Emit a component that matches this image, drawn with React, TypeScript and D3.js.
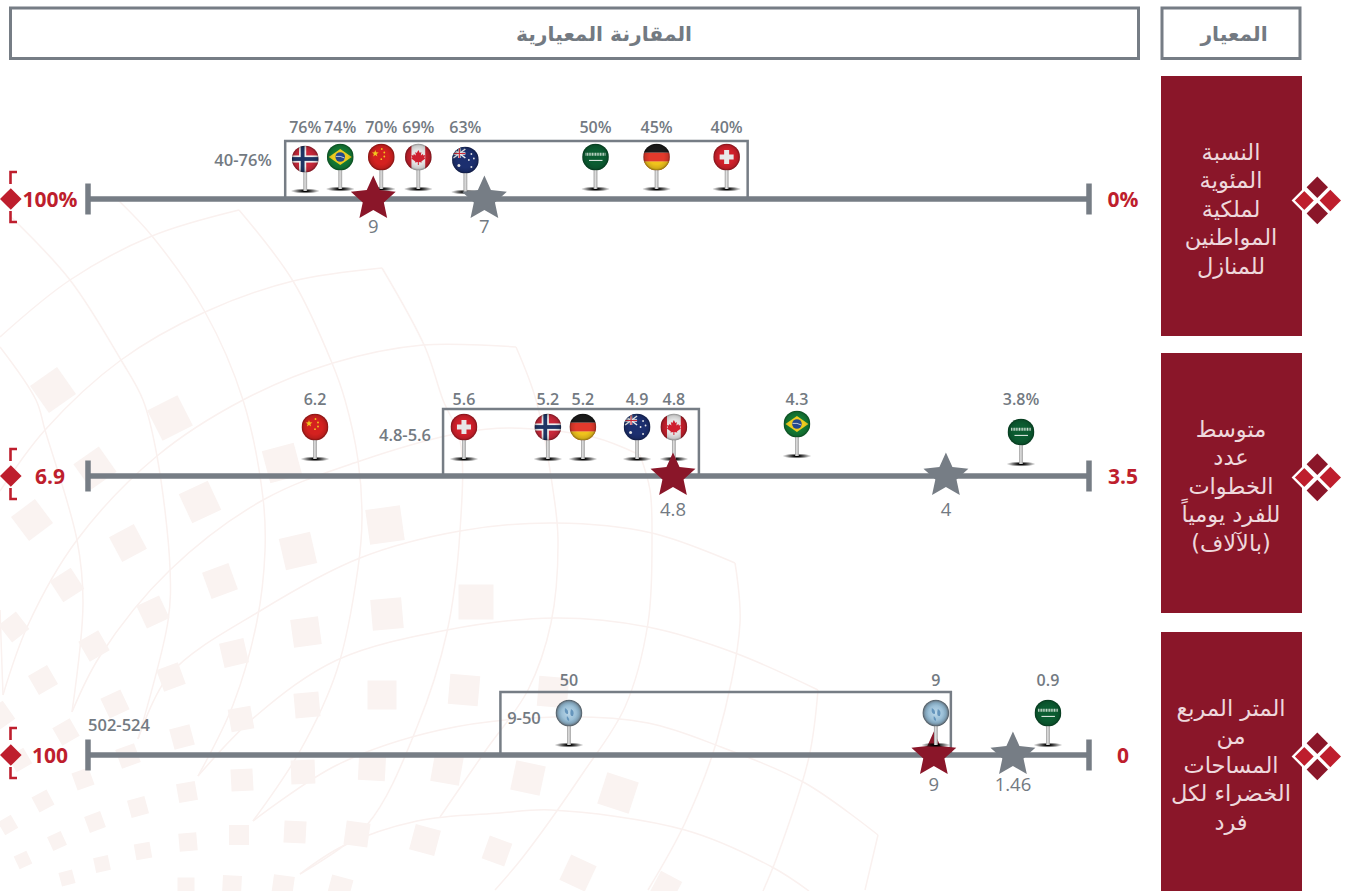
import { useEffect, useRef } from 'react';
import * as d3 from 'd3';

const WIDTH = 1347;
const HEIGHT = 891;

const RED = '#be1e2d';
const DARK_RED = '#8a1629';
const GRAY = '#767d85';
const TEXT_GRAY = '#737a82';
const LATIN = "'Open Sans', 'Noto Sans', sans-serif";
const ARABIC = "'DejaVu Sans', sans-serif";

const headerMain = 'المقارنة المعيارية';
const headerSide = 'المعيار';

const rowTitles = [
  ['النسبة', 'المئوية', 'لملكية', 'المواطنين', 'للمنازل'],
  ['متوسط', 'عدد', 'الخطوات', 'للفرد يومياً', '(بالآلاف)'],
  ['المتر المربع', 'من', 'المساحات', 'الخضراء لكل', 'فرد'],
];
const rowKeys = ['ownership', 'steps', 'green'];
const axisLeftLabels = ['100%', '6.9', '100'];
const axisRightLabels = ['0%', '3.5', '0'];
const axisDomains = [[100, 0], [6.9, 3.5], [100, 0]];

// Countries, printed labels and where each pin actually sits on its axis (the
// source infographic does not place pins exactly at the printed number)
const ownershipCountries = ['norway', 'brazil', 'china', 'canada', 'australia', 'saudi', 'germany', 'swiss'];
const ownershipLabels = ['76%', '74%', '70%', '69%', '63%', '50%', '45%', '40%'];
const ownershipPlotted = [78.3, 74.8, 70.7, 67, 62.3, 49.3, 43.2, 36.2];
const ownershipStars = [71.5, 60.4];
const ownershipStarLabels = ['9', '7'];
const ownershipRange = [80.3, 34.1];

const stepsCountries = ['china', 'swiss', 'norway', 'germany', 'australia', 'canada', 'brazil', 'saudi'];
const stepsLabels = ['6.2', '5.6', '5.2', '5.2', '4.9', '4.8', '4.3', '3.8%'];
const stepsPlotted = [6.129, 5.623, 5.338, 5.219, 5.035, 4.91, 4.492, 3.731];
const stepsStars = [4.913, 3.986];
const stepsStarLabels = ['4.8', '4'];
const stepsRange = [5.694, 4.825];

const greenCountries = ['un', 'un', 'saudi'];
const greenLabels = ['50', '9', '0.9'];
const greenPlotted = [51.95, 15.3, 4.1];
const greenStars = [15.5, 7.6];
const greenStarLabels = ['9', '1.46'];
const greenRange = [58.8, 13.8];

const rangeLabels = ['40-76%', '4.8-5.6', '9-50'];

const rowPins = [
  { countries: ownershipCountries, labels: ownershipLabels, plotted: ownershipPlotted },
  { countries: stepsCountries, labels: stepsLabels, plotted: stepsPlotted },
  { countries: greenCountries, labels: greenLabels, plotted: greenPlotted },
];
const rowStars = [
  { at: ownershipStars, labels: ownershipStarLabels },
  { at: stepsStars, labels: stepsStarLabels },
  { at: greenStars, labels: greenStarLabels },
];
const rowRanges = [ownershipRange, stepsRange, greenRange];

// Layout per row, offsets measured from the axis line
const rowLayout = [
  { boxTop: 58, head: 42, base: 10, labelUp: 72, starLabelDown: 28, rangeLabelX: 243, rangeLabelUp: 39, pinsOnTop: false },
  { boxTop: 67, head: 49, base: 17, labelUp: 77, starLabelDown: 34, rangeLabelX: 405, rangeLabelUp: 41, pinsOnTop: false },
  { boxTop: 63, head: 42, base: 10, labelUp: 75, starLabelDown: 30, rangeLabelX: 524, rangeLabelUp: 37, pinsOnTop: true },
];
// A few pins hang slightly off their row's common height
const pinNudges: Record<string, number> = {
  'ownership-norway': 2,
  'ownership-australia': 3,
  'steps-brazil': -3,
  'steps-saudi': 5,
};

// Decorative backdrop: [x, y, side, rotation]
const backdropSquares = [
  [53, 390, 33, -35], [170, 418, 34, -27], [95, 468, 31, -35], [282, 463, 33, -15], [200, 502, 32, -25],
  [32, 520, 30, -37], [385, 525, 35, -8], [298, 551, 32, -13], [128, 543, 28, -28], [220, 581, 28, -20],
  [67, 585, 25, -33], [476, 602, 35, 0], [387, 614, 31, -5], [306, 632, 28, -8], [153, 612, 25, -25],
  [234, 653, 25, -13], [14, 627, 22, -38], [94, 646, 23, -30], [171, 677, 23, -20], [464, 690, 30, 5],
  [382, 695, 29, 0], [307, 705, 25, -5], [241, 719, 23, -10], [43, 680, 22, -30], [115, 704, 22, -25],
  [0, 716, 22, -35], [182, 737, 21, -15], [66, 732, 20, -30], [20, 760, 18, -30], [128, 756, 20, -20],
  [303, 772, 24, -2], [372, 767, 27, 3], [447, 769, 29, 10], [242, 780, 22, -3], [83, 779, 18, -20],
  [187, 792, 19, -10], [43, 801, 17, -28], [138, 807, 18, -15], [95, 822, 17, -20], [8, 825, 15, -30],
  [239, 835, 20, 0], [295, 832, 22, 3], [357, 834, 24, 8], [425, 840, 26, 15], [188, 842, 18, -5],
  [57, 841, 15, -25], [143, 851, 16, -10], [23, 860, 14, -25], [102, 864, 15, -12], [67, 878, 14, -15],
  [497, 851, 24, 20], [186, 886, 17, 0], [232, 885, 19, 3], [283, 886, 21, 8], [340, 888, 22, 15],
  [553, 692, 30, 5], [528, 778, 30, 12], [618, 793, 33, 18], [578, 873, 28, 25], [666, 887, 24, 28],
];
const backdropCurves = [
  [[0, 337], [70, 280], [152, 236], [239, 210]],
  [[0, 491], [45, 430], [121, 360], [205, 312], [293, 281], [382, 268]],
  [[3, 695], [28, 625], [77, 540], [157, 456], [243, 400], [333, 363], [423, 345], [516, 347]],
  [[72, 712], [100, 656], [170, 570], [263, 500], [360, 461], [460, 433], [510, 428], [593, 437], [640, 455]],
  [[138, 739], [170, 674], [260, 611], [360, 558], [460, 531], [555, 523], [652, 533], [735, 563]],
  [[198, 776], [257, 715], [337, 660], [447, 630], [555, 618], [648, 627], [735, 653], [818, 690]],
  [[253, 821], [337, 765], [440, 730], [555, 717], [648, 723], [721, 747], [805, 783], [878, 835]],
  [[300, 874], [343, 846], [417, 821], [500, 813], [551, 810], [685, 830], [772, 867], [809, 891]],
  [[0, 610], [3, 695]],
  [[0, 347], [36, 400], [45, 430], [77, 540], [83, 603], [72, 712]],
  [[11, 217], [70, 280], [121, 360], [143, 400], [157, 456], [170, 568], [168, 621], [138, 739]],
  [[118, 200], [152, 236], [205, 312], [243, 400], [263, 498], [265, 551], [257, 621], [233, 705], [198, 776]],
  [[239, 210], [293, 281], [332, 363], [345, 400], [358, 460], [362, 518], [358, 568], [337, 670], [300, 751], [253, 821]],
  [[382, 268], [425, 347], [443, 400], [460, 440], [460, 531], [447, 632], [417, 727], [367, 825], [300, 874]],
  [[516, 347], [536, 400], [553, 490], [558, 540], [551, 623], [528, 690], [486, 750], [440, 817]],
  [[640, 455], [650, 490], [652, 540], [648, 623], [625, 707], [583, 773], [523, 857], [495, 890]],
  [[735, 563], [740, 623], [717, 740], [685, 823], [648, 890]],
  [[818, 690], [809, 757], [777, 857], [763, 891]],
  [[878, 835], [865, 890]],
];

const PIN_R = 13.3;
const MAPLE_LEAF = 'M0,-7L1.5,-4L3,-5L2.5,-1.5L4.5,-3L5,-1.5L7,-2L6,0.5L7,1.5L3,4.5L3.5,5.5L0.5,5L0.5,8L-0.5,8L-0.5,5L-3.5,5.5L-3,4.5L-7,1.5L-6,0.5L-7,-2L-5,-1.5L-4.5,-3L-2.5,-1.5L-3,-5L-1.5,-4Z';

// Five-pointed star, a bit fuller than d3.symbolStar to match the picture
function star(outer: number, ratio = 0.47) {
  const points = d3.range(10).map(k => [(k * Math.PI) / 5, k % 2 ? outer * ratio : outer] as [number, number]);
  return d3.lineRadial().curve(d3.curveLinearClosed)(points) as string;
}

function rect(g: any, x: number, y: number, w: number, h: number, fill: string) {
  g.append('rect').attr('x', x).attr('y', y).attr('width', w).attr('height', h).attr('fill', fill);
}

function drawFlag(g: any, code: string) {
  const r = PIN_R;
  if (code === 'norway') {
    rect(g, -r, -r, 2 * r, 2 * r, '#c9283a');
    rect(g, -r, -3.6, 2 * r, 7.2, '#eeeeee');
    rect(g, -6.2, -r, 7.2, 2 * r, '#eeeeee');
    rect(g, -r, -1.9, 2 * r, 3.8, '#1f3564');
    rect(g, -4.5, -r, 3.8, 2 * r, '#1f3564');
  } else if (code === 'brazil') {
    rect(g, -r, -r, 2 * r, 2 * r, '#137a35');
    g.append('path').attr('d', 'M-11.5,0L0,-8L11.5,0L0,8Z').attr('fill', '#eccb1f');
    g.append('circle').attr('r', 4.8).attr('fill', '#24488c');
    g.append('path').attr('d', 'M-4.4,-0.6Q0,-1.4 4.4,1').attr('fill', 'none').attr('stroke', '#e8e8e8').attr('stroke-width', 0.8);
  } else if (code === 'china') {
    rect(g, -r, -r, 2 * r, 2 * r, '#d4211f');
    g.append('path').attr('d', star(3.6, 0.4)).attr('transform', 'translate(-6,-3.5)').attr('fill', '#f2c81e');
    [[0.5, -8], [3, -4.5], [3, -0.5], [0, 2.2]].forEach(([cx, cy]) => {
      g.append('circle').attr('cx', cx).attr('cy', cy).attr('r', 0.9).attr('fill', '#f2c81e');
    });
  } else if (code === 'canada') {
    rect(g, -r, -r, 2 * r, 2 * r, '#e4e4e4');
    rect(g, -r, -r, 6.4, 2 * r, '#c4202c');
    rect(g, r - 6.4, -r, 6.4, 2 * r, '#c4202c');
    g.append('path').attr('d', MAPLE_LEAF).attr('fill', '#cf2030');
  } else if (code === 'australia') {
    rect(g, -r, -r, 2 * r, 2 * r, '#1c2f6f');
    const jack = g.append('g');
    rect(jack, -r, -r, 13, 11, '#28407f');
    jack.append('path').attr('d', 'M-12,-11L0,-2M0,-11L-12,-2').attr('stroke', '#ececec').attr('stroke-width', 1.5);
    jack.append('path').attr('d', 'M-12,-6.5H0M-6,-12V-2').attr('stroke', '#ececec').attr('stroke-width', 2.4);
    jack.append('path').attr('d', 'M-12,-6.5H0M-6,-12V-2').attr('stroke', '#cf2a3a').attr('stroke-width', 1.1);
    [[-6.5, 5.5, 1.5], [6, -6, 0.9], [8.5, -1.5, 0.9], [3.5, 0, 0.9], [6, 7, 1]].forEach(([cx, cy, cr]) => {
      g.append('circle').attr('cx', cx).attr('cy', cy).attr('r', cr).attr('fill', '#ececec');
    });
  } else if (code === 'saudi') {
    rect(g, -r, -r, 2 * r, 2 * r, '#0b5c31');
    g.append('line').attr('x1', -10).attr('x2', 10).attr('y1', -2.8).attr('y2', -2.8)
      .attr('stroke', '#c9dccf').attr('stroke-width', 3).attr('stroke-dasharray', '1 0.6');
    g.append('line').attr('x1', -6.5).attr('x2', 7).attr('y1', 3.4).attr('y2', 3.4)
      .attr('stroke', '#eef3ef').attr('stroke-width', 1);
  } else if (code === 'germany') {
    rect(g, -r, -r, 2 * r, r * 0.68, '#1b1b1b');
    rect(g, -r, -r + r * 0.68, 2 * r, r * 0.66, '#e23a2c');
    rect(g, -r, -r + r * 1.34, 2 * r, r * 0.66, '#e23a2c');
    rect(g, -r, r * 0.34, 2 * r, r * 0.66, '#f0c31c');
  } else if (code === 'swiss') {
    rect(g, -r, -r, 2 * r, 2 * r, '#d1202b');
    rect(g, -7, -2.5, 14, 5, '#e8e8e8');
    rect(g, -2.5, -7, 5, 14, '#e8e8e8');
  } else {
    g.append('circle').attr('r', r).attr('fill', 'url(#un-globe)');
    g.append('path').attr('d', 'M-4,-5Q0,-3 -1,1Q-5,1 -4,-5ZM2,-4Q6,-2 4,3Q0,4 2,-4ZM-2,3Q1,6 0,8Q-3,7 -2,3Z')
      .attr('fill', '#5d8fb8').attr('opacity', 0.9);
  }
}

function drawPin(root: any, x: number, axisY: number, layout: any, code: string, lift: number) {
  const headY = axisY - layout.head + lift;
  const baseY = axisY - layout.base + lift;
  root.append('ellipse').attr('cx', x).attr('cy', baseY).attr('rx', 14.5).attr('ry', 2.6).attr('fill', 'url(#pin-shadow)');
  root.append('rect').attr('x', x - 1.9).attr('y', headY + 10).attr('width', 3.8).attr('height', baseY - headY - 10)
    .attr('fill', 'url(#pin-stem)');
  const head = root.append('g').attr('transform', `translate(${x},${headY})`);
  drawFlag(head.append('g').attr('clip-path', 'url(#pin-clip)'), code);
  head.append('circle').attr('r', PIN_R).attr('fill', 'url(#pin-gloss)');
}

export default function App() {
  const svgRef = useRef<SVGSVGElement | null>(null);

  useEffect(() => {
    if (!svgRef.current) return;
    document.body.style.margin = '0';
    const svg = d3.select(svgRef.current);
    svg.selectAll('*').remove();

    const defs = svg.append('defs');
    defs.append('clipPath').attr('id', 'pin-clip').append('circle').attr('r', PIN_R);

    const gloss = defs.append('radialGradient').attr('id', 'pin-gloss');
    gloss.append('stop').attr('offset', '0.55').attr('stop-color', '#000').attr('stop-opacity', 0);
    gloss.append('stop').attr('offset', '0.85').attr('stop-color', '#000').attr('stop-opacity', 0.12);
    gloss.append('stop').attr('offset', '1').attr('stop-color', '#000').attr('stop-opacity', 0.4);

    const shadow = defs.append('radialGradient').attr('id', 'pin-shadow');
    shadow.append('stop').attr('offset', '0.2').attr('stop-color', '#000').attr('stop-opacity', 1);
    shadow.append('stop').attr('offset', '1').attr('stop-color', '#000').attr('stop-opacity', 0);

    const stem = defs.append('linearGradient').attr('id', 'pin-stem');
    stem.append('stop').attr('offset', '0').attr('stop-color', '#9a9a9a');
    stem.append('stop').attr('offset', '0.45').attr('stop-color', '#e2e2e2');
    stem.append('stop').attr('offset', '1').attr('stop-color', '#9c9c9c');

    const globe = defs.append('radialGradient').attr('id', 'un-globe');
    globe.append('stop').attr('offset', '0').attr('stop-color', '#bcd8ea');
    globe.append('stop').attr('offset', '0.75').attr('stop-color', '#8fb6cf');
    globe.append('stop').attr('offset', '1').attr('stop-color', '#7f8f9c');

    // Backdrop
    const backdrop = svg.append('g');
    const curve = d3.line().curve(d3.curveCatmullRom.alpha(0.5));
    backdropCurves.forEach(points => {
      backdrop.append('path').attr('d', curve(points as [number, number][]))
        .attr('fill', 'none').attr('stroke', '#faf1ef').attr('stroke-width', 1.5);
    });
    backdropSquares.forEach(([x, y, side, rot]) => {
      backdrop.append('rect').attr('x', -side / 2).attr('y', -side / 2).attr('width', side).attr('height', side)
        .attr('transform', `translate(${x},${y}) rotate(${rot})`).attr('fill', '#faf3f1');
    });

    // Header boxes
    const headers = [
      { x: 10.5, w: 1128, cx: 604, text: headerMain },
      { x: 1162, w: 138, cx: 1234, text: headerSide },
    ];
    headers.forEach(h => {
      svg.append('rect').attr('x', h.x).attr('y', 8).attr('width', h.w).attr('height', 50.5)
        .attr('fill', '#fff').attr('stroke', GRAY).attr('stroke-width', 3);
      svg.append('text').attr('x', h.cx).attr('y', 34).attr('dy', '0.35em').attr('text-anchor', 'middle')
        .attr('direction', 'rtl').attr('font-family', ARABIC).attr('font-weight', 700).attr('font-size', 20.3)
        .attr('fill', TEXT_GRAY).text(h.text);
    });

    const axisStart = 88;
    const axisEnd = 1089;
    const rowY = d3.scaleOrdinal<string, number>().domain(rowKeys).range([199, 476, 755]);

    rowKeys.forEach((key, i) => {
      const y = rowY(key);
      const layout = rowLayout[i];
      const x = d3.scaleLinear().domain(axisDomains[i]).range([axisStart, axisEnd]);
      const row = svg.append('g');

      // Side panel
      row.append('rect').attr('x', 1161).attr('y', y - 123).attr('width', 141).attr('height', 260).attr('fill', DARK_RED);
      const lineY = d3.scalePoint().domain(d3.range(rowTitles[i].length).map(String)).range([y - 47, y + 67]);
      rowTitles[i].forEach((line, l) => {
        row.append('text').attr('x', 1231).attr('y', lineY(String(l)) as number).attr('dy', '0.35em')
          .attr('text-anchor', 'middle').attr('direction', 'rtl').attr('font-family', ARABIC)
          .attr('font-size', 22.5).attr('fill', '#eed8dc').text(line);
      });

      // Diamonds beside the panel
      const dy = y + 1.5;
      const diamond = (half: number) => `M0,${-half}L${half},0L0,${half}L${-half},0Z`;
      row.append('path').attr('d', diamond(10.7)).attr('transform', `translate(1317.3,${dy - 13.3})`).attr('fill', DARK_RED);
      row.append('path').attr('d', diamond(10.7)).attr('transform', `translate(1317.3,${dy + 13})`).attr('fill', DARK_RED);
      row.append('path').attr('d', diamond(10.7)).attr('transform', `translate(1330.3,${dy})`).attr('fill', RED);
      row.append('path').attr('d', diamond(11)).attr('transform', `translate(1304.3,${dy})`)
        .attr('fill', RED).attr('stroke', '#fff').attr('stroke-width', 2.4);

      // Left marker
      row.append('path').attr('d', diamond(10.8)).attr('transform', `translate(10.8,${y})`).attr('fill', RED);
      row.append('path').attr('d', `M17,${y - 27}H10.5V${y - 15}M17,${y + 23}H10.5V${y + 12}`)
        .attr('fill', 'none').attr('stroke', RED).attr('stroke-width', 2.6);

      // Range box
      const [r0, r1] = rowRanges[i];
      row.append('path').attr('d', `M${x(r0)},${y}V${y - layout.boxTop}H${x(r1)}V${y}`)
        .attr('fill', 'none').attr('stroke', GRAY).attr('stroke-width', 2.5);

      // Axis
      row.append('line').attr('x1', axisStart).attr('x2', axisEnd).attr('y1', y).attr('y2', y)
        .attr('stroke', GRAY).attr('stroke-width', 5.5);
      [axisStart, axisEnd].forEach(end => {
        row.append('line').attr('x1', end).attr('x2', end).attr('y1', y - 15.5).attr('y2', y + 15.5)
          .attr('stroke', GRAY).attr('stroke-width', 5.5);
      });

      row.append('text').attr('x', 50).attr('y', y).attr('dy', '0.36em').attr('text-anchor', 'middle')
        .attr('font-family', LATIN).attr('font-weight', 700).attr('font-size', 21).attr('fill', RED).text(axisLeftLabels[i]);
      row.append('text').attr('x', 1123).attr('y', y).attr('dy', '0.36em').attr('text-anchor', 'middle')
        .attr('font-family', LATIN).attr('font-weight', 700).attr('font-size', 21).attr('fill', RED).text(axisRightLabels[i]);

      row.append('text').attr('x', layout.rangeLabelX).attr('y', y - layout.rangeLabelUp).attr('dy', '0.35em')
        .attr('text-anchor', 'middle').attr('font-family', LATIN).attr('font-weight', 600).attr('font-size', 16.5)
        .attr('fill', TEXT_GRAY).text(rangeLabels[i]);

      const drawPins = () => {
        const pins = rowPins[i];
        pins.plotted.forEach((value, p) => {
          const lift = pinNudges[`${key}-${pins.countries[p]}`] || 0;
          drawPin(row, x(value), y, layout, pins.countries[p], lift);
          row.append('text').attr('x', x(value)).attr('y', y - layout.labelUp).attr('dy', '0.35em')
            .attr('text-anchor', 'middle').attr('font-family', LATIN).attr('font-weight', 600).attr('font-size', 16)
            .attr('fill', TEXT_GRAY).text(pins.labels[p]);
        });
      };
      const drawStars = () => {
        rowStars[i].at.forEach((value, s) => {
          row.append('path').attr('d', star(23.6)).attr('transform', `translate(${x(value)},${y})`)
            .attr('fill', s === 0 ? DARK_RED : GRAY);
          row.append('text').attr('x', x(value)).attr('y', y + layout.starLabelDown).attr('dy', '0.35em')
            .attr('text-anchor', 'middle').attr('font-family', LATIN).attr('font-size', 18.5)
            .attr('fill', TEXT_GRAY).text(rowStars[i].labels[s]);
        });
      };
      if (layout.pinsOnTop) {
        drawStars();
        drawPins();
      } else {
        drawPins();
        drawStars();
      }
    });

    // Stray range label printed at the far end of the last row
    svg.append('text').attr('x', 119).attr('y', rowY('green') - 30).attr('dy', '0.35em').attr('text-anchor', 'middle')
      .attr('font-family', LATIN).attr('font-weight', 600).attr('font-size', 16.5).attr('fill', TEXT_GRAY).text('502-524');
  }, []);

  return <svg ref={svgRef} width={WIDTH} height={HEIGHT} style={{ display: 'block', background: '#fff' }} />;
}
